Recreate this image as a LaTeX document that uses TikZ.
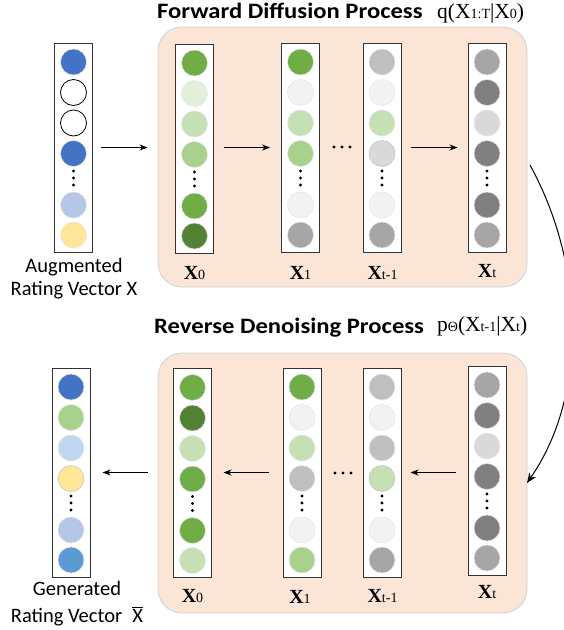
\documentclass[tikz,border=0pt]{standalone}
\usepackage{fontspec}
\setmainfont{Liberation Serif}
\newfontfamily\calfont{Carlito}
\usetikzlibrary{arrows.meta}
\definecolor{dblue}{HTML}{4472C4}
\definecolor{lblue}{HTML}{B4C7E7}
\definecolor{sky}{HTML}{BDD7EE}
\definecolor{mblue}{HTML}{5B9BD5}
\definecolor{yel}{HTML}{FFE699}
\definecolor{gA}{HTML}{70AD47}
\definecolor{gZ}{HTML}{E2F0D9}
\definecolor{gB}{HTML}{C5E0B4}
\definecolor{gC}{HTML}{A9D18E}
\definecolor{gD}{HTML}{548235}
\definecolor{kA}{HTML}{F2F2F2}
\definecolor{kB}{HTML}{D9D9D9}
\definecolor{kC}{HTML}{BFBFBF}
\definecolor{kD}{HTML}{A6A6A6}
\definecolor{kE}{HTML}{808080}
\definecolor{peach}{HTML}{FBE5D6}
\newcommand\myvec[9]{%
  \node[vbox] (#1) at (#2,#3+104.5) {};
  \node[circ,#4] (#1-1) at (#2,#3+19) {};
  \node[circ,#5] (#1-2) at (#2,#3+49.5) {};
  \node[circ,#6] (#1-3) at (#2,#3+80) {};
  \node[circ,#7] (#1-4) at (#2,#3+110.5) {};
  \node[circ,#8] (#1-5) at (#2,#3+162) {};
  \node[circ,#9] (#1-6) at (#2,#3+192) {};
  \foreach \d in {128,135,142} \node[vdot] (#1-d\d) at (#2,#3+\d) {};
}
\newcommand\xlab[1]{{\fontsize{20}{20}\selectfont\bfseries X}{\fontsize{14}{14}\selectfont #1}}
\newcommand\bg[1]{{\fontsize{21.5}{20}\selectfont #1}}
\newcommand\sm[1]{{\fontsize{14}{14}\selectfont #1}}
\begin{document}
\begin{tikzpicture}[x=1pt,y=-1pt,
  vbox/.style={draw=black!80, line width=1pt, fill=white, minimum width=38pt, minimum height=209pt, inner sep=0pt},
  circ/.style={circle, minimum size=26pt, inner sep=0pt, draw=black!10, line width=0.5pt},
  wc/.style={fill=white, draw=black, line width=0.8pt},
  vdot/.style={circle, fill=black, minimum size=3.2pt, inner sep=0pt},
  panel/.style={draw=black!18, fill=peach, rounded corners=24pt, line width=0.8pt},
  arr/.style={-{Stealth[length=8pt,width=6pt]}, line width=0.8pt},
  cal/.style={font=\calfont\fontsize{20.5}{22}\selectfont, inner sep=0pt},
  ttl/.style={font=\calfont\bfseries\fontsize{22}{22}\selectfont, inner sep=0pt, anchor=base west},
  lab/.style={inner sep=0pt, anchor=base}]
\useasboundingbox (0,0) rectangle (563,630);
% panels
\node[panel, minimum width=369pt, minimum height=260pt, inner sep=0pt] (ptop) at (342.5,157) {};
\node[panel, minimum width=369pt, minimum height=260pt, inner sep=0pt] (pbot) at (342.5,483) {};
% titles
\node[ttl] (t1) at (157,18) {\scalebox{1.12}[1]{Forward Diffusion Process}};
\node[lab, anchor=base west] (f1) at (437,18) {\bg{q(X}\sm{1:T}\bg{|X}\sm{0}\bg{)}};
\node[ttl] (t2) at (154,333) {\scalebox{1.12}[1]{Reverse Denoising Process}};
\node[lab, anchor=base west] (f2) at (437,331) {\bg{p}\sm{Θ}\bg{(X}\sm{t-1}\bg{|X}\sm{t}\bg{)}};
% top vectors
\myvec{aug}{73.5}{43}{fill=dblue}{wc}{wc}{fill=dblue}{fill=lblue}{fill=yel}
\myvec{ft0}{194.5}{44}{fill=gA}{fill=gZ}{fill=gB}{fill=gC}{fill=gA}{fill=gD}
\myvec{ft1}{300.5}{43}{fill=gA}{fill=kA}{fill=gB}{fill=gC}{fill=kA}{fill=kD}
\myvec{ftm}{382}{43}{fill=kC}{fill=kA}{fill=gB}{fill=kB,draw=black!25}{fill=kA}{fill=kD}
\myvec{ftt}{487}{43}{fill=kD}{fill=kE}{fill=kB}{fill=kE}{fill=kE}{fill=kD}
% bottom vectors
\myvec{gen}{71}{368}{fill=dblue}{fill=gC}{fill=sky}{fill=yel,draw=black!25}{fill=lblue}{fill=mblue}
\myvec{bt0}{192.5}{368.5}{fill=gA}{fill=gD}{fill=gB}{fill=gA}{fill=gA}{fill=gB}
\myvec{bt1}{302}{368}{fill=gA}{fill=kA}{fill=gB}{fill=kC}{fill=kA}{fill=gC}
\myvec{btm}{382}{368}{fill=kC}{fill=kA}{fill=kC}{fill=gB,draw=black!25}{fill=kA}{fill=kD}
\myvec{btt}{487}{366}{fill=kD}{fill=kE}{fill=kB}{fill=kE}{fill=kE}{fill=kD}
% horizontal dots
\foreach \x [count=\i] in {334,342,350} \node[vdot] (hd\i) at (\x,147) {};
\foreach \x [count=\i] in {335,343,351} \node[vdot] (hb\i) at (\x,473) {};
% labels
\node[lab] (lt0) at (194.5,279) {\xlab{0}};
\node[lab] (lt1) at (300.5,279) {\xlab{1}};
\node[lab] (ltm) at (382.5,279) {\xlab{t-1}};
\node[lab] (ltt) at (487,277) {\xlab{t}};
\node[lab] (lb0) at (192.5,602) {\xlab{0}};
\node[lab] (lb1) at (300,603) {\xlab{1}};
\node[lab] (lbm) at (382.5,602) {\xlab{t-1}};
\node[lab] (lbt) at (487,598) {\xlab{t}};
\node[cal, anchor=base] (a1) at (74,272) {Augmented};
\node[cal, anchor=base] (a2) at (74,295) {Rating Vector X};
\node[cal, anchor=base] (g1) at (77,595) {Generated};
\node[cal, anchor=base] (g2) at (77,622) {Rating Vector\hspace{0.5em}$\overline{\hbox{\calfont\fontsize{20.5}{22}\selectfont X}}$};
% arrows
\draw[arr] ([xshift=8pt]aug.east) -- ([xshift=-27.5pt]ft0.west |- aug.east);
\draw[arr] ([xshift=9.5pt]ft0.east |- ft1.east) -- ([xshift=-11pt]ft1.west);
\draw[arr] ([xshift=9pt]ftm.east) -- ([xshift=-10pt]ftt.west);
\draw[arr] ([xshift=-25.5pt]bt0.west |- gen.east) -- ([xshift=12pt]gen.east);
\draw[arr] ([xshift=-14pt]bt1.west) -- ([xshift=11.5pt]bt0.east |- bt1.west);
\draw[arr] ([xshift=-12pt]btt.west |- btm.east) -- ([xshift=9pt]btm.east);
\coordinate (cs) at (530,165);
\coordinate (ce) at (527,483);
\draw[-{Stealth[length=10pt,width=8pt]}, line width=1pt] (cs) .. controls (585,265) and (588,395) .. (ce);
\end{tikzpicture}
\end{document}
